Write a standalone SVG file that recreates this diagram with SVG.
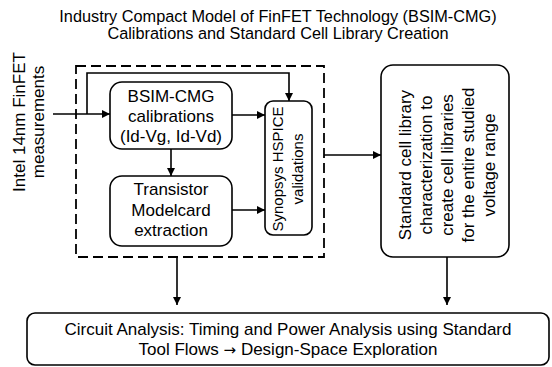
<svg xmlns="http://www.w3.org/2000/svg" width="552" height="367" viewBox="0 0 552 367">
<defs>
<marker id="ah" viewBox="0 0 10 10" refX="10" refY="5" markerWidth="8" markerHeight="8" markerUnits="userSpaceOnUse" orient="auto">
<path d="M0,0 L10,5 L0,10 z" fill="#000"/>
</marker>
<style>
text{font-family:"Liberation Sans",Arial,sans-serif;font-size:17px;fill:#000;text-anchor:middle}
.box{fill:#fff;stroke:#000;stroke-width:1.6}
.arr{fill:none;stroke:#000;stroke-width:1.6;marker-end:url(#ah)}
.dash{fill:none;stroke:#000;stroke-width:1.8;stroke-dasharray:10 5}
.sm{font-size:15px}
.tt{font-size:16.3px}
.sym{font-family:"DejaVu Sans",sans-serif;font-size:15px}
</style>
</defs>
<rect width="552" height="367" fill="#fff"/>
<g id="title">
<text class="tt" x="278" y="21.5">Industry Compact Model of FinFET Technology (BSIM-CMG)</text>
<text class="tt" x="278" y="39">Calibrations and Standard Cell Library Creation</text>
</g>
<g id="input">
<text transform="translate(25,122) rotate(-90)">Intel 14nm FinFET</text>
<text transform="translate(44,122) rotate(-90)">measurements</text>
</g>
<g id="group">
<rect class="dash" x="76" y="66" width="248" height="191"/>
</g>
<g id="bsim">
<rect class="box" x="110" y="82" width="122" height="67" rx="12"/>
<text x="171" y="102">BSIM-CMG</text>
<text x="171" y="122">calibrations</text>
<text x="171" y="142">(Id-Vg, Id-Vd)</text>
</g>
<g id="transistor">
<rect class="box" x="110" y="176" width="122" height="70" rx="12"/>
<text x="171" y="195">Transistor</text>
<text x="171" y="215.5">Modelcard</text>
<text x="171" y="236">extraction</text>
</g>
<g id="hspice">
<rect class="box" x="265" y="101" width="47" height="134" rx="8"/>
<text class="sm" transform="translate(283,169) rotate(-90)">Synopsys HSPICE</text>
<text class="sm" transform="translate(303,169) rotate(-90)">validations</text>
</g>
<g id="library">
<rect class="box" x="381" y="65" width="128" height="192" rx="12"/>
<text transform="translate(411,165) rotate(-90)">Standard cell library</text>
<text transform="translate(432,165) rotate(-90)">characterization to</text>
<text transform="translate(453,165) rotate(-90)">create cell libraries</text>
<text transform="translate(474,165) rotate(-90)">for the entire studied</text>
<text transform="translate(495,165) rotate(-90)">voltage range</text>
</g>
<g id="analysis">
<rect class="box" x="27" y="313" width="522" height="52" rx="8"/>
<text x="288" y="335">Circuit Analysis: Timing and Power Analysis using Standard</text>
<text x="288" y="354.5">Tool Flows <tspan class="sym">→</tspan> Design-Space Exploration</text>
</g>
<g id="connectors">
<line class="arr" x1="53" y1="114" x2="110" y2="114"/>
<polyline class="arr" points="87,114 87,73 289,73 289,101"/>
<line class="arr" x1="171" y1="149" x2="171" y2="176"/>
<line class="arr" x1="232" y1="115" x2="265" y2="115"/>
<line class="arr" x1="232" y1="210" x2="265" y2="210"/>
<line class="arr" x1="324" y1="155" x2="381" y2="155"/>
<line class="arr" x1="177" y1="257" x2="177" y2="305"/>
<line class="arr" x1="447" y1="257" x2="447" y2="305"/>
</g>
</svg>
